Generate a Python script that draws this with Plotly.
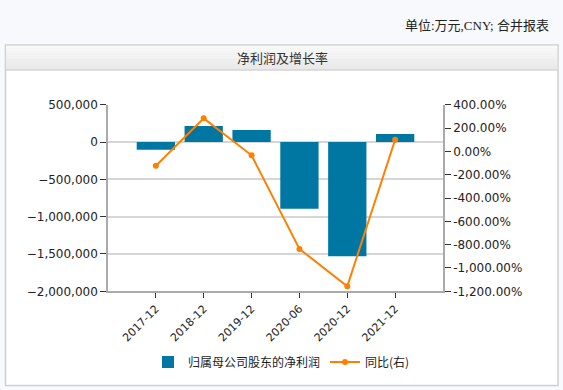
import plotly.graph_objects as go

categories = ["2017-12", "2018-12", "2019-12", "2020-06", "2020-12", "2021-12"]
net_profit = [-105000, 214000, 161000, -894000, -1532000, 107000]
yoy_pct = [-123, 283, -34, -837, -1157, 100]

bar_name = "归属母公司股东的净利润"
line_name = "同比(右)"
title_text = "净利润及增长率"
unit_text = "单位:万元,CNY; 合并报表"

left_ticks = [500000, 0, -500000, -1000000, -1500000, -2000000]
right_ticks = [400, 200, 0, -200, -400, -600, -800, -1000, -1200]

W, H = 563, 390
def px(x):
    return x / W
def py(y):
    return 1 - y / H

fig = go.Figure()
fig.add_trace(go.Bar(x=categories, y=net_profit, name=bar_name,
                     marker=dict(color="#0077a3", line=dict(width=0)),
                     width=0.8, yaxis="y"))
fig.add_trace(go.Scatter(x=categories, y=yoy_pct, name=line_name, mode="lines+markers",
                         line=dict(color="#ff8000", width=2),
                         marker=dict(color="#ff8000", size=6), yaxis="y2"))

shapes = []
# outer box
shapes.append(dict(type="rect", xref="paper", yref="paper", x0=px(5.5), x1=px(558), y0=py(385.5), y1=py(45),
                   fillcolor="white", line=dict(color="#d0d0d0", width=1.5), layer="below"))
# title bar gradient
n = 12
top, bot = 45.7, 70
for i in range(n):
    y0 = top + (bot - top) * i / n
    y1 = top + (bot - top) * (i + 1) / n
    c = int(248 - (248 - 233) * i / (n - 1))
    shapes.append(dict(type="rect", xref="paper", yref="paper", x0=px(6.2), x1=px(557.3), y0=py(y1), y1=py(y0),
                       fillcolor=f"rgb({c},{c},{c})", line=dict(width=0), layer="below"))
shapes.append(dict(type="line", xref="paper", yref="paper", x0=px(6), x1=px(557.5), y0=py(70), y1=py(70),
                   line=dict(color="#d4d4d4", width=1.5), layer="below"))

fig.update_layout(
    width=W, height=H,
    autosize=False,
    margin=dict(l=0, r=0, t=0, b=0, pad=0, autoexpand=False),
    paper_bgcolor="#f7f9fc",
    plot_bgcolor="white",
    shapes=shapes,
    showlegend=True,
    font=dict(family="DejaVu Sans, Noto Sans CJK SC", size=12, color="#222"),
    xaxis=dict(domain=[px(108), px(443)], range=[-1, 6], type="category", automargin=False,
               tickangle=-45, ticks="outside", ticklen=5, tickcolor="#333",
               showline=True, linecolor="#aaa", linewidth=1.5, showgrid=False,
               tickfont=dict(size=11, color="#222")),
    yaxis=dict(domain=[py(291.3), py(104.7)], range=[-2000000, 500000], automargin=False,
               tickvals=left_ticks, tickformat=",d", ticks="outside", ticklen=6, tickcolor="#333",
               showline=True, linecolor="#aaa", linewidth=1.5,
               showgrid=True, gridcolor="#d6d6d6", gridwidth=1.5, zeroline=False,
               tickfont=dict(size=12, color="#222")),
    yaxis2=dict(overlaying="y", side="right", anchor="x", range=[-1200, 400], automargin=False,
                tickvals=right_ticks, ticktext=[f"{v:,.2f}%" for v in right_ticks],
                ticks="outside", ticklen=6, tickcolor="#333",
                showline=True, linecolor="#aaa", linewidth=1.5,
                showgrid=False, zeroline=False,
                tickfont=dict(size=12, color="#222")),
    legend=dict(orientation="h", x=0.5, xanchor="center", y=py(362), yanchor="middle",
                font=dict(family="Noto Sans CJK SC", size=12, color="#222"),
                bgcolor="rgba(0,0,0,0)", itemwidth=30),
    annotations=[
        dict(text=unit_text, xref="paper", yref="paper", x=px(551), y=py(26), xanchor="right", yanchor="middle",
             showarrow=False, font=dict(family="Liberation Serif, Noto Sans CJK SC", size=13, color="#222")),
        dict(text=title_text, xref="paper", yref="paper", x=px(282), y=py(57.5), xanchor="center", yanchor="middle",
             showarrow=False, font=dict(family="Noto Sans CJK SC", size=13, color="#333")),
    ],
)

fig.write_html("out.html", config={"displayModeBar": False},
               post_script="document.body.style.margin='0';document.body.style.overflow='hidden';")
